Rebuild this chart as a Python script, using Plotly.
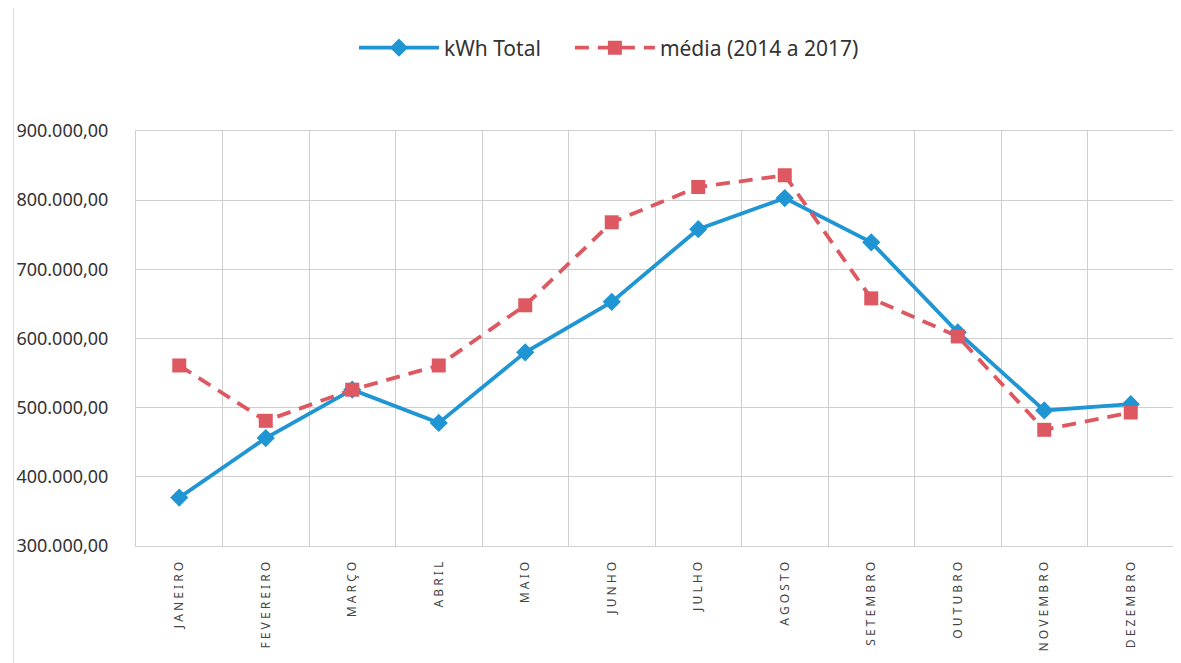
import plotly.graph_objects as go

meses = ["JANEIRO", "FEVEREIRO", "MARÇO", "ABRIL", "MAIO", "JUNHO",
         "JULHO", "AGOSTO", "SETEMBRO", "OUTUBRO", "NOVEMBRO", "DEZEMBRO"]
kwh_total = [370000, 456000, 526000, 478000, 580000, 653000,
             758000, 803000, 739000, 609000, 496000, 505000]
media_2014_2017 = [561000, 481000, 526000, 561000, 648000, 768000,
                   819000, 836000, 658000, 603000, 468000, 493000]

# rótulos do eixo x com letras espaçadas, como no original
rotulos = [" ".join(m) for m in meses]

AZUL = "#1f96d3"
VERMELHO = "#dd5860"
GRADE = "#cfcfcf"

fig = go.Figure()
fig.add_trace(go.Scatter(
    x=meses, y=kwh_total, name="kWh Total", mode="lines+markers",
    line={"color": AZUL, "width": 3.8},
    marker={"symbol": "diamond", "size": 14, "color": AZUL},
    legend="legend", showlegend=True,
))
fig.add_trace(go.Scatter(
    x=meses, y=media_2014_2017, name="média (2014 a 2017)", mode="lines+markers",
    line={"color": VERMELHO, "width": 3.8, "dash": "14px,9px"},
    marker={"symbol": "square", "size": 14, "color": VERMELHO},
    legend="legend2", showlegend=True,
))

leg = {"orientation": "h", "xanchor": "left", "y": 1.2, "yanchor": "middle",
       "font": {"size": 21, "color": "#333333"}, "itemwidth": 80,
       "bgcolor": "rgba(0,0,0,0)", "visible": True}

# a página tem 8px de margem no body, por isso a figura é um pouco menor
fig.update_layout(
    width=1173, height=655,
    paper_bgcolor="white", plot_bgcolor="white",
    separators=",.",
    showlegend=True,
    font={"family": "Noto Sans", "color": "#333333"},
    margin={"l": 128, "r": 7, "t": 123, "b": 117, "autoexpand": False},
    legend={**leg, "x": 0.21},
    legend2={**leg, "x": 0.418},
    shapes=[{"type": "rect", "xref": "paper", "yref": "paper",
             "x0": -0.118, "x1": 1.02, "y0": -0.3, "y1": 1.3,
             "line": {"color": "#dcdcdc", "width": 1}}],
)
fig.update_xaxes(
    tickmode="array", tickvals=meses, ticktext=rotulos, tickangle=-90,
    tickson="boundaries", ticks="", range=[-0.5, 11.5],
    showgrid=True, gridcolor=GRADE, gridwidth=1,
    showline=True, linecolor=GRADE, mirror=True,
    ticklabelstandoff=10,
    tickfont={"size": 12, "color": "#444444"},
)
fig.update_yaxes(
    range=[300000, 900000], dtick=100000, tickformat=",.2f",
    showgrid=True, gridcolor=GRADE, gridwidth=1,
    showline=True, linecolor=GRADE, mirror=True, zeroline=False,
    ticks="", ticklabelstandoff=23,
    tickfont={"size": 18, "color": "#333333"},
)

fig.write_html("out.html")
